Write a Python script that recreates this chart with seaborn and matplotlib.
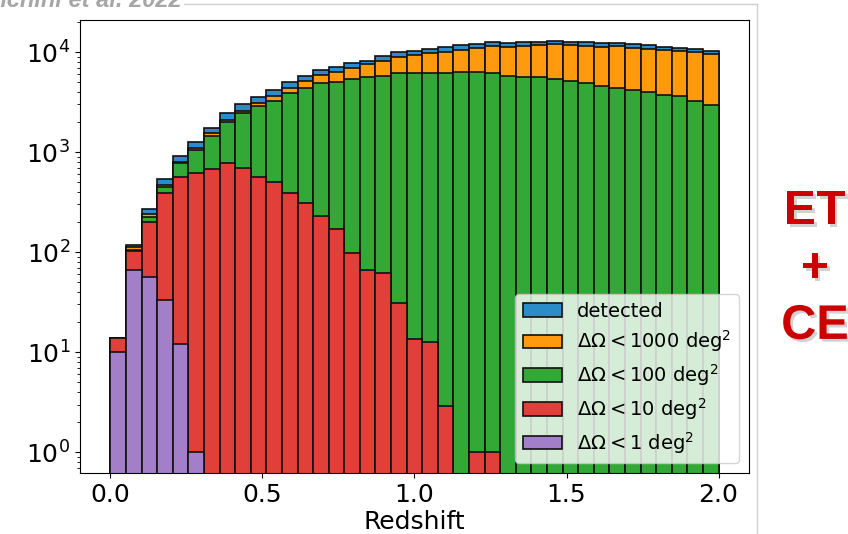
import numpy as np
import pandas as pd
import matplotlib
matplotlib.use('Agg')
import matplotlib.pyplot as plt
import matplotlib.patheffects as pe
from matplotlib.lines import Line2D
import seaborn as sns

# 红移分箱 (0 到 2, 39 个箱)
edges = np.linspace(0.0, 2.0, 40)
centers = 0.5 * (edges[:-1] + edges[1:])

# 每个箱中的事件数
detected = [14, 118, 270, 537, 912, 1260, 1740, 2450, 3020, 3550, 4170, 5000, 5800,
            6600, 7080, 7800, 8190, 9120, 9920, 10300, 10700, 11300, 11700, 12100,
            12600, 12200, 12500, 12700, 12900, 12700, 12500, 12200, 12300, 12000,
            11700, 11300, 11100, 10800, 10300]
sky_1000 = [14, 112, 240, 470, 790, 1100, 1550, 2090, 2570, 3090, 3630, 4370, 5100,
            5900, 6300, 6900, 7550, 8190, 8960, 9400, 9700, 10000, 10600, 11000,
            11500, 11300, 11500, 11700, 12000, 11700, 11600, 11300, 11500, 11100,
            10800, 10500, 10300, 9900, 9500]
sky_100 = [14, 106, 224, 450, 776, 1047, 1445, 1995, 2450, 2880, 3240, 3890, 4370,
           4900, 5000, 5360, 5580, 5750, 6180, 6180, 6180, 6180, 6300, 6250, 6180,
           5800, 5650, 5570, 5370, 5130, 4920, 4600, 4420, 4170, 3980, 3720, 3600,
           3260, 2950]
sky_10 = [14, 102, 200, 390, 560, 617, 676, 776, 690, 562, 500, 389, 309, 229, 170,
          98, 66, 62, 31, 13.5, 12.6, 2.9, 0, 1, 1, 0, 0, 0, 0, 0, 0, 0, 0, 0, 0, 0,
          0, 0, 0]
sky_1 = [10, 66, 56, 33, 12, 1, 0, 0, 0, 0, 0, 0, 0, 0, 0, 0, 0, 0, 0, 0, 0, 0, 0,
         0, 0, 0, 0, 0, 0, 0, 0, 0, 0, 0, 0, 0, 0, 0, 0]

series = [
    ('detected', detected, '#2b8cc8'),
    (r'$\Delta\Omega < 1000$ deg$^2$', sky_1000, '#ff9a0f'),
    (r'$\Delta\Omega < 100$ deg$^2$', sky_100, '#33a837'),
    (r'$\Delta\Omega < 10$ deg$^2$', sky_10, '#e1403a'),
    (r'$\Delta\Omega < 1$ deg$^2$', sky_1, '#a47fc9'),
]

fig = plt.figure(figsize=(8.48, 5.34), dpi=100)
ax = fig.add_axes([0.0943, 0.1142, 0.7889, 0.8483])
ax.set_yscale('log')

for label, counts, color in series:
    df = pd.DataFrame({'z': centers, 'n': counts})
    sns.histplot(data=df, x='z', weights='n', bins=list(edges), ax=ax, color=color,
                 edgecolor='#111111', linewidth=1.2, alpha=1.0, label=label)

ax.set_xlim(-0.1, 2.1)
ax.set_ylim(0.62, 2.09e4)
ax.set_xticks([0.0, 0.5, 1.0, 1.5, 2.0])
ax.set_xlabel('Redshift', fontsize=18, labelpad=2)
ax.set_ylabel('')
ax.tick_params(axis='both', labelsize=18)
ax.legend(loc='lower right', fontsize=14, labelspacing=0.4)

# 右侧 ET + CE 标注
fig.text(0.961, 0.496, 'ET\n+\nCE', ha='center', va='center', fontsize=35,
         fontweight='bold', family='Liberation Sans', color='#cc0000',
         linespacing=1.35,
         path_effects=[pe.withSimplePatchShadow(offset=(2, -2),
                                                shadow_rgbFace='gray', alpha=0.35)])

# 左上角被裁剪的引用
fig.text(182 / 848, 1 - 7 / 534, 'Ronchini et al. 2022', ha='right', va='baseline',
         fontsize=17, fontweight='bold', fontstyle='italic', color='#a6a6a6',
         family='Liberation Sans')

# 幻灯片边框线
fig.add_artist(Line2D([184 / 848, 757 / 848], [1 - 4 / 534, 1 - 4 / 534],
                      color='#d0d0d0', lw=1.0))
fig.add_artist(Line2D([757 / 848, 757 / 848], [0, 1 - 4 / 534],
                      color='#d0d0d0', lw=1.0))

fig.savefig('out.png', dpi=100, facecolor='white')
